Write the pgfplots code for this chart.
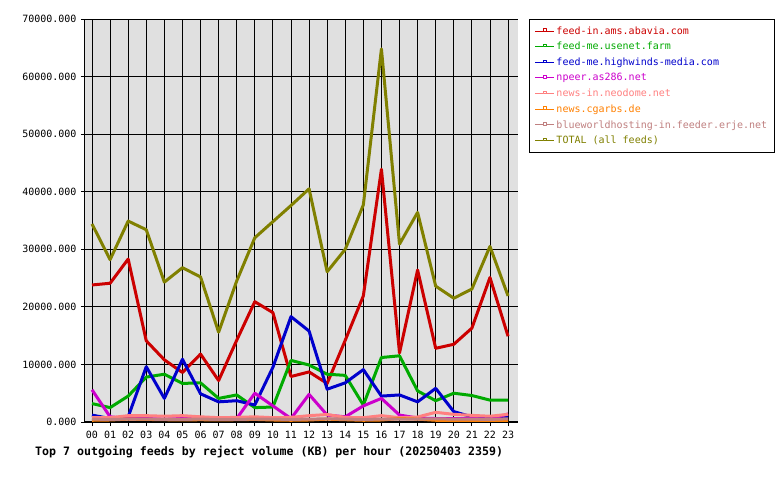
\documentclass[border=0pt]{standalone}
\usepackage{pgfplots}
\pgfplotsset{compat=1.18}
\usepackage{fontspec}
\setmainfont{DejaVu Sans Mono}
\definecolor{cred}{HTML}{CC0000}
\definecolor{cgreen}{HTML}{00AA00}
\definecolor{cblue}{HTML}{0000CC}
\definecolor{cmag}{HTML}{CC00CC}
\definecolor{csalmon}{HTML}{FF8080}
\definecolor{corange}{HTML}{FF8000}
\definecolor{crosy}{HTML}{C08080}
\definecolor{colive}{HTML}{808000}
\definecolor{bggray}{HTML}{E0E0E0}

\pgfplotstableread{
h red green blue mag salmon orange rosy total
0 23800 3200 1200 5600 750 300 500 34400
1 24100 2500 600 900 750 350 450 28200
2 28300 4500 900 600 1100 500 500 34900
3 14100 7800 9600 600 1100 450 500 33400
4 10800 8300 4100 500 1000 400 450 24300
5 8600 6700 10900 600 1100 350 450 26800
6 11800 6800 4900 700 900 400 500 25200
7 7200 4100 3500 500 750 350 450 15600
8 14200 4700 3700 600 800 400 450 24500
9 20900 2500 2950 5000 900 450 500 32000
10 19000 2600 9500 2800 750 350 500 34800
11 7900 10700 18300 600 800 300 450 37600
12 8700 9900 15800 4800 1100 350 500 40500
13 6700 8300 5700 1200 1300 500 550 26100
14 14200 8100 6800 900 800 400 500 30000
15 21900 2950 9100 2800 750 300 450 37700
16 43900 11200 4500 4100 1100 350 500 64800
17 12000 11500 4700 1200 750 600 500 30900
18 26400 5400 3500 700 870 500 500 36400
19 12800 3700 5850 600 1680 300 550 23600
20 13500 5000 1800 600 1330 250 500 21500
21 16300 4600 900 600 1150 300 500 23100
22 25100 3800 800 500 1000 250 450 30500
23 14900 3800 1000 1400 1330 300 550 21900
}\datatable

\begin{document}
\begin{tikzpicture}
\path[use as bounding box] (-85bp,-58bp) rectangle (695bp,422bp);
\begin{axis}[
  at={(0,0)}, anchor=south west,
  scale only axis, width=433bp, height=403bp,
  xmin=-0.387, xmax=23.55, ymin=0, ymax=70000,
  axis background/.style={fill=bggray},
  axis lines*=left,
  axis line style={black, line width=1bp, -},
  xtick={0,...,23},
  xticklabels={00,01,02,03,04,05,06,07,08,09,10,11,12,13,14,15,16,17,18,19,20,21,22,23},
  ytick={0,10000,20000,30000,40000,50000,60000,70000},
  yticklabels={0.000,10000.000,20000.000,30000.000,40000.000,50000.000,60000.000,70000.000},
  scaled y ticks=false,
  grid=major, major grid style={black, line width=0.8bp},
  tick align=outside, major tick length=4bp, tick style={black, line width=0.8bp},
  ticklabel style={font=\fontsize{10bp}{12bp}\selectfont},
  xticklabel style={yshift=-2bp},
  yticklabel style={xshift=-1bp},
  every axis plot/.append style={line width=3bp, line join=round},
  legend style={at={(1.0254,1)}, anchor=north west, draw=black, line width=1bp,
    fill=white, font=\fontsize{10bp}{12bp}\selectfont, row sep=2.6bp, inner sep=5bp},
  legend cell align=left,
  legend image code/.code={
    \draw[#1, line width=1bp] (0bp,0bp) -- (19bp,0bp);
    \draw[#1, line width=0.7bp, fill=white] (8bp,0bp) rectangle (11bp,2.5bp);
  },
]
\addplot[cred] table[x=h,y=red] {\datatable};
\addlegendentry{\textcolor{cred}{feed-in.ams.abavia.com}}
\addplot[cgreen] table[x=h,y=green] {\datatable};
\addlegendentry{\textcolor{cgreen}{feed-me.usenet.farm}}
\addplot[cblue] table[x=h,y=blue] {\datatable};
\addlegendentry{\textcolor{cblue}{feed-me.highwinds-media.com}}
\addplot[cmag] table[x=h,y=mag] {\datatable};
\addlegendentry{\textcolor{cmag}{npeer.as286.net}}
\addplot[csalmon] table[x=h,y=salmon] {\datatable};
\addlegendentry{\textcolor{csalmon}{news-in.neodome.net}}
\addplot[corange] table[x=h,y=orange] {\datatable};
\addlegendentry{\textcolor{corange}{news.cgarbs.de}}
\addplot[crosy] table[x=h,y=rosy] {\datatable};
\addlegendentry{\textcolor{crosy}{blueworldhosting-in.feeder.erje.net}}
\addplot[colive] table[x=h,y=total] {\datatable};
\addlegendentry{\textcolor{colive}{TOTAL (all feeds)}}
\end{axis}
\node[anchor=west, font=\bfseries\fontsize{11.6bp}{13bp}\selectfont, inner sep=0pt] at (-50bp,-30bp) {Top 7 outgoing feeds by reject volume (KB) per hour (20250403 2359)};
\end{tikzpicture}
\end{document}
